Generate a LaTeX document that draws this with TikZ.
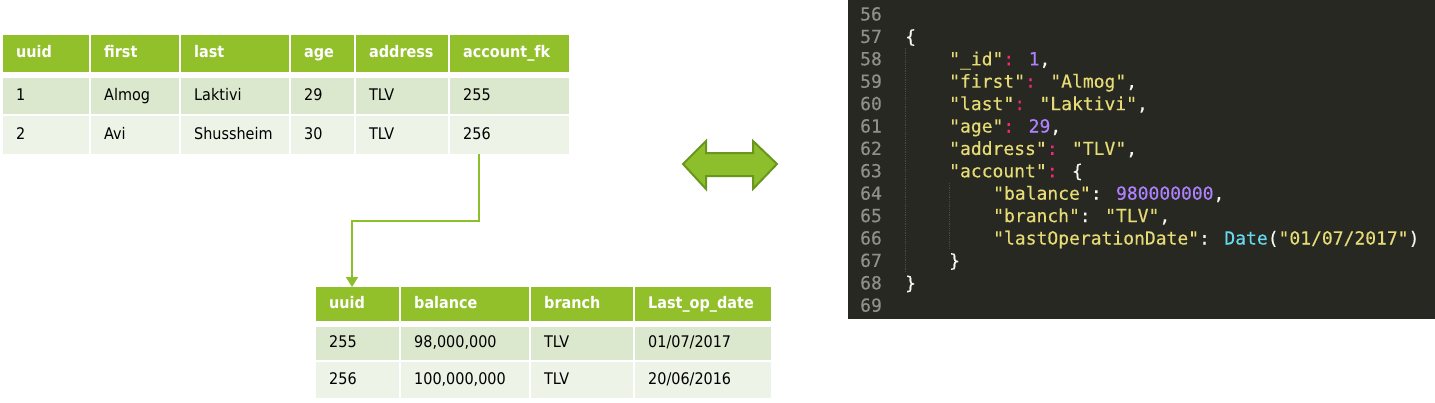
\documentclass[tikz,border=0pt]{standalone}
\usepackage{fontspec}
\usetikzlibrary{arrows.meta,calc}
\newfontfamily\tabfont{DejaVu Sans Condensed}
\newfontfamily\codefont[FakeBold=0.3]{DejaVu Sans Mono}
\definecolor{hdgreen}{HTML}{92C02A}
\definecolor{rowa}{HTML}{DCE8CE}
\definecolor{rowb}{HTML}{EDF3E7}
\definecolor{linkgreen}{HTML}{8CC02A}
\definecolor{arrfill}{HTML}{8DBE2C}
\definecolor{arredge}{HTML}{6B961E}
\definecolor{codebg}{HTML}{272822}
\definecolor{lnogray}{HTML}{8F908A}
\definecolor{guidegray}{HTML}{4A4B44}
\definecolor{jwhite}{HTML}{F8F8F2}
\definecolor{jyellow}{HTML}{E6DB74}
\definecolor{jpink}{HTML}{F92672}
\definecolor{jpurple}{HTML}{AE81FF}
\definecolor{jcyan}{HTML}{66D9EF}
\newcommand{\jstr}[1]{\textcolor{jyellow}{#1}}
\newcommand{\jpk}[1]{\textcolor{jpink}{#1}}
\newcommand{\jnum}[1]{\textcolor{jpurple}{#1}}
\newcommand{\jfun}[1]{\textcolor{jcyan}{#1}}
\tikzset{
  cell/.style={anchor=north west, inner xsep=13pt, inner ysep=0pt, align=left,
    text height=11.5pt, text depth=3pt, font=\tabfont\fontsize{16}{19}\selectfont},
  hd/.style={cell, fill=hdgreen, text=white, font=\tabfont\bfseries\fontsize{16}{19}\selectfont},
  ra/.style={cell, fill=rowa},
  rb/.style={cell, fill=rowb},
  lno/.style={anchor=base west, inner sep=0pt, text=lnogray, font=\codefont\fontsize{18}{22}\selectfont},
  code/.style={lno, text=jwhite},
  guide/.style={guidegray, densely dotted, line width=0.8pt},
  link/.style={draw=linkgreen, line width=2pt, -{Triangle[width=12pt,length=10pt]}},
}
\begin{document}
\begin{tikzpicture}[x=1pt,y=-1pt]
\useasboundingbox (0,0) rectangle (1435,402);

% persons table
\node[hd, text width=60pt, minimum height=37pt] (tid) at (3,35) {uuid};
\node[hd, text width=62pt, minimum height=37pt] (tfirst) at (91,35) {first};
\node[hd, text width=82pt, minimum height=37pt] (tlast) at (181,35) {last};
\node[hd, text width=37pt, minimum height=37pt] (tage) at (291,35) {age};
\node[hd, text width=66pt, minimum height=37pt] (taddr) at (356,35) {address};
\node[hd, text width=93pt, minimum height=37pt] (tfk) at (450,35) {account\_fk};

\node[ra, text width=60pt, minimum height=36pt] (tid1) at (3,78) {1};
\node[ra, text width=62pt, minimum height=36pt] (tfirst1) at (91,78) {Almog};
\node[ra, text width=82pt, minimum height=36pt] (tlast1) at (181,78) {Laktivi};
\node[ra, text width=37pt, minimum height=36pt] (tage1) at (291,78) {29};
\node[ra, text width=66pt, minimum height=36pt] (taddr1) at (356,78) {TLV};
\node[ra, text width=93pt, minimum height=36pt] (tfk1) at (450,78) {255};

\node[rb, text width=60pt, minimum height=38pt] (tid2) at (3,116) {2};
\node[rb, text width=62pt, minimum height=38pt] (tfirst2) at (91,116) {Avi};
\node[rb, text width=82pt, minimum height=38pt] (tlast2) at (181,116) {Shussheim};
\node[rb, text width=37pt, minimum height=38pt] (tage2) at (291,116) {30};
\node[rb, text width=66pt, minimum height=38pt] (taddr2) at (356,116) {TLV};
\node[rb, text width=93pt, minimum height=38pt] (tfk2) at (450,116) {256};

% accounts table
\node[hd, text width=57pt, minimum height=34pt] (bid) at (316,287) {uuid};
\node[hd, text width=102pt, minimum height=34pt] (bbal) at (401,287) {balance};
\node[hd, text width=76pt, minimum height=34pt] (bbr) at (531,287) {branch};
\node[hd, text width=110pt, minimum height=34pt] (bdate) at (635,287) {Last\_op\_date};

\node[ra, text width=57pt, minimum height=33pt] (bid1) at (316,327) {255};
\node[ra, text width=102pt, minimum height=33pt] (bbal1) at (401,327) {98,000,000};
\node[ra, text width=76pt, minimum height=33pt] (bbr1) at (531,327) {TLV};
\node[ra, text width=110pt, minimum height=33pt] (bdate1) at (635,327) {01/07/2017};

\node[rb, text width=57pt, minimum height=36pt] (bid2) at (316,362) {256};
\node[rb, text width=102pt, minimum height=36pt] (bbal2) at (401,362) {100,000,000};
\node[rb, text width=76pt, minimum height=36pt] (bbr2) at (531,362) {TLV};
\node[rb, text width=110pt, minimum height=36pt] (bdate2) at (635,362) {20/06/2016};

\draw[link] ($(tfk2.south west)+(29,0)$) |- ($(bid.north west)+(36,-66)$) -- ($(bid.north west)+(36,0)$);

% double arrow
\filldraw[fill=arrfill, draw=arredge, line width=2pt, line join=miter]
  (683,164) -- (706,141) -- (706,153) -- (753,153) -- (753,141) -- (777,164)
  -- (753,189) -- (753,176) -- (706,176) -- (706,189) -- cycle;

% editor
\fill[codebg] (848,0) rectangle (1435,319);
\draw[guide] (905,48) -- (905,272);
\draw[guide] (949,183) -- (949,249);

\node[lno] (l56) at (860,20.5) {56};
\node[lno] (l57) at (860,42.9) {57};
\node[lno] (l58) at (860,65.3) {58};
\node[lno] (l59) at (860,87.7) {59};
\node[lno] (l60) at (860,110.1) {60};
\node[lno] (l61) at (860,132.5) {61};
\node[lno] (l62) at (860,154.9) {62};
\node[lno] (l63) at (860,177.3) {63};
\node[lno] (l64) at (860,199.7) {64};
\node[lno] (l65) at (860,222.1) {65};
\node[lno] (l66) at (860,244.5) {66};
\node[lno] (l67) at (860,266.9) {67};
\node[lno] (l68) at (860,289.3) {68};
\node[lno] (l69) at (860,311.7) {69};

\node[code] (c57) at (905,42.9) {\{};
\node[code] (c58) at (949,65.3) {\jstr{"\_id"}\jpk{:} \jnum{1},};
\node[code] (c59) at (949,87.7) {\jstr{"first"}\jpk{:} \jstr{"Almog"},};
\node[code] (c60) at (949,110.1) {\jstr{"last"}\jpk{:} \jstr{"Laktivi"},};
\node[code] (c61) at (949,132.5) {\jstr{"age"}\jpk{:} \jnum{29},};
\node[code] (c62) at (949,154.9) {\jstr{"address"}\jpk{:} \jstr{"TLV"},};
\node[code] (c63) at (949,177.3) {\jstr{"account"}\jpk{:} \{};
\node[code] (c64) at (993,199.7) {\jstr{"balance"}: \jnum{980000000},};
\node[code] (c65) at (993,222.1) {\jstr{"branch"}: \jstr{"TLV"},};
\node[code] (c66) at (993,244.5) {\jstr{"lastOperationDate"}: \jfun{Date}(\jstr{"01/07/2017"})};
\node[code] (c67) at (949,266.9) {\}};
\node[code] (c68) at (905,289.3) {\}};
\end{tikzpicture}
\end{document}
